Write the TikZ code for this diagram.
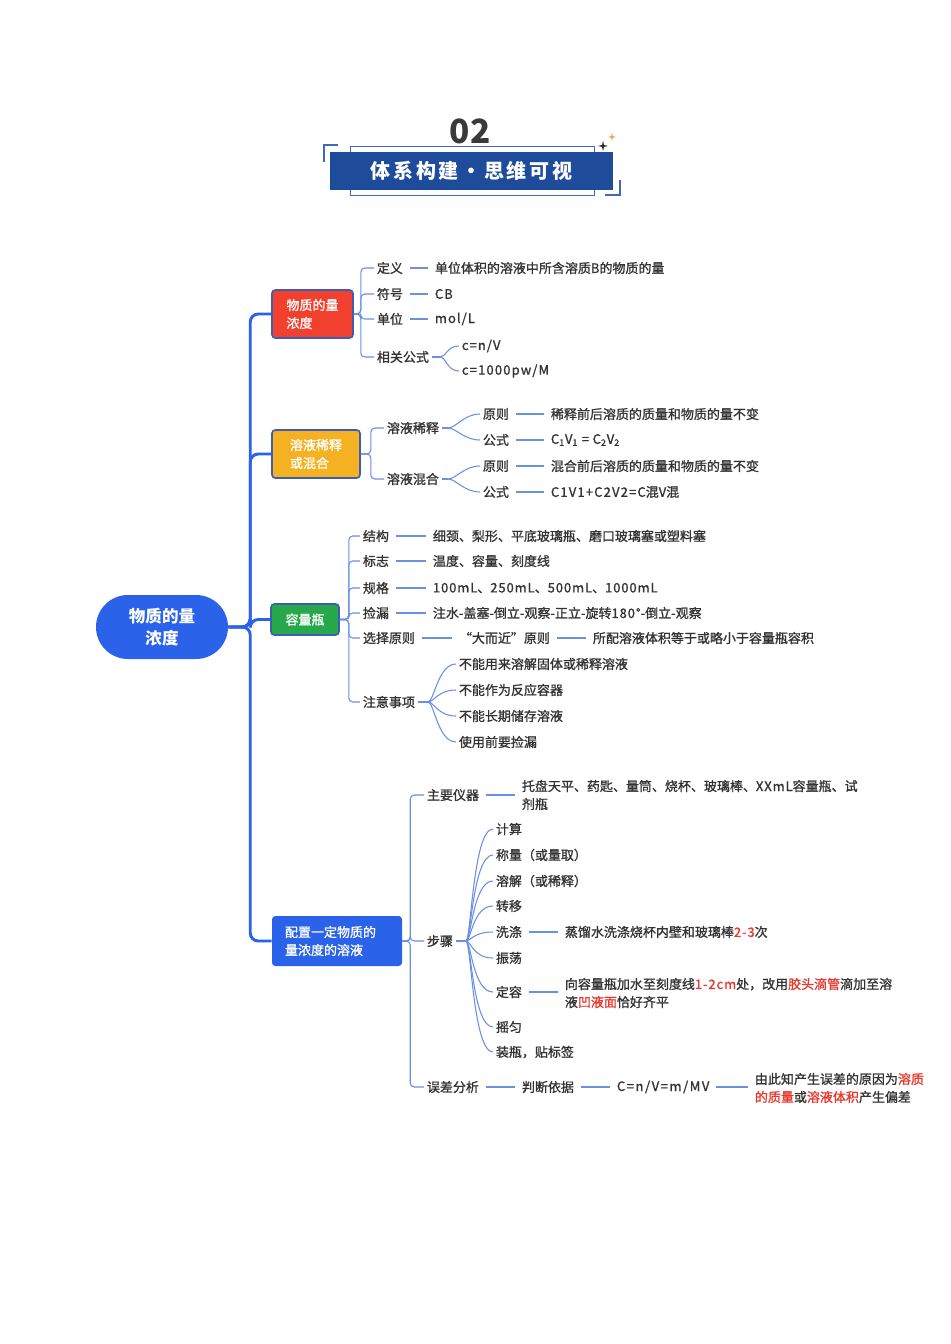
\documentclass[tikz,border=0pt]{standalone}
\usepackage{fontspec}
\setmainfont{Noto Sans CJK SC}
\newfontfamily\leaffam{Noto Sans CJK SC}[FakeBold=1.1]
\usetikzlibrary{calc}
\definecolor{txt}{HTML}{333333}
\definecolor{numc}{HTML}{3A3A3A}
\definecolor{tblue}{HTML}{1E4C9A}
\definecolor{frc}{HTML}{3B6BC0}
\definecolor{cblue}{HTML}{2A62EA}
\definecolor{lblue}{HTML}{6A90E4}
\definecolor{boxred}{HTML}{F2402F}
\definecolor{boxorg}{HTML}{F4B223}
\definecolor{boxgrn}{HTML}{27A84A}
\definecolor{bordb}{HTML}{3D5DB5}
\definecolor{hl}{HTML}{E8392F}
\definecolor{starorg}{HTML}{E8A040}
\newcommand\leaffont{\leaffam\fontsize{9.75pt}{13.5pt}\selectfont}
\newcommand\boxfont{\leaffam\fontsize{9.75pt}{13.5pt}\selectfont}
\newcommand\hlt[1]{\textcolor{hl}{#1}}
\newcommand\lsp[2]{{\addfontfeature{LetterSpace=#1}#2}}
\tikzset{
  trunk/.style={draw=cblue, line width=2.2pt, rounded corners=6pt},
  br/.style={draw=lblue, line width=0.8pt, rounded corners=3pt},
  fk/.style={draw=lblue, line width=0.8pt},
  dl/.style={draw=lblue, line width=0.8pt, shorten <=3pt, shorten >=3pt},
  lf/.style={anchor=west, inner xsep=2pt, inner ysep=1pt, text=txt, font=\leaffont, align=left},
  bx/.style={rounded corners=2.5pt, text=white, font=\boxfont, align=left, inner sep=0pt},
  frl/.style={draw=frc, line width=1.1pt},
}
\begin{document}
\begin{tikzpicture}[x=0.75pt,y=-0.75pt]
\useasboundingbox[fill=white] (0,0) rectangle (950,1344);

% ---------- title ----------
\node[font=\fontsize{25pt}{25pt}\selectfont\bfseries, text=numc, inner sep=0pt] (num) at (470,131) {02};
\node[draw=frc, line width=0.7pt, fill=white, minimum width=183pt, minimum height=36.75pt, inner sep=0pt] (frame) at (472,170.5) {};
\node[fill=tblue, minimum width=212.25pt, minimum height=28.5pt, inner sep=0pt, text=white,
      font=\fontsize{15pt}{15pt}\selectfont\bfseries] (ttl) at (471.5,171)
  {体\kern2pt 系\kern2pt 构\kern2pt 建\kern2pt ・\kern2pt 思\kern2pt 维\kern2pt 可\kern2pt 视};
\draw[frl] (338,145) -- (324,145) -- (324,162);
\draw[frl] (605,195) -- (620,195) -- (620,180);
\fill[txt] (603,141) -- (604,145) -- (608,146) -- (604,147) -- (603,151) -- (602,147) -- (598,146) -- (602,145) -- cycle;
\fill[starorg] (612,133) -- (612.8,136.2) -- (616,137) -- (612.8,137.8) -- (612,141) -- (611.2,137.8) -- (608,137) -- (611.2,136.2) -- cycle;

% ---------- central node & boxes ----------
\node[fill=cblue, rounded corners=24pt, minimum width=99pt, minimum height=48pt, inner sep=0pt,
      text=white, align=center, font=\fontsize{12.4pt}{16.5pt}\selectfont\bfseries] (c) at (162,627) {物质的量\\浓度};

\node[bx, fill=boxred, draw=bordb, line width=1.2pt, minimum width=60.75pt, minimum height=36pt] (b1) at (312.5,314) {物质的量\\浓度};
\node[bx, fill=boxorg, draw=bordb, line width=1.2pt, minimum width=66pt, minimum height=36pt] (b2) at (316,454) {溶液稀释\\或混合};
\node[bx, fill=boxgrn, draw=bordb, line width=1.2pt, minimum width=51pt, minimum height=23.25pt] (b3) at (305,619.5) {容量瓶};
\node[bx, fill=cblue, minimum width=97.5pt, minimum height=37.5pt, text width=78pt] (b4) at (337,941) {配置一定物质的\\量浓度的溶液};

\foreach \b in {b1,b2,b3,b4} \draw[trunk] (c.east) -- ++(22,0) |- (\b.west);

% ---------- branch 1 ----------
\node[lf] (k11) at (374,268) {定义};
\node[lf] (k12) at (374,294) {符号};
\node[lf] (k13) at (374,319) {单位};
\node[lf] (k14) at (374,357) {相关公式};
\foreach \k in {k11,k12,k13,k14} \draw[br] (b1.east) -- ++(7,0) |- (\k.west);
\node[lf] (v11) at (432,268) {单位体积的溶液中所含溶质B的物质的量};
\node[lf] (v12) at (432,294) {\lsp{8}{CB}};
\node[lf] (v13) at (432,319) {\lsp{8}{mol/L}};
\draw[dl] (k11) -- (v11);
\draw[dl] (k12) -- (v12);
\draw[dl] (k13) -- (v13);
\coordinate (f14) at (440,357);
\node[lf] (v141) at (459,346) {\lsp{8}{c=n/V}};
\node[lf] (v142) at (459,371) {\lsp{9}{c=1000pw/M}};
\draw[fk] (k14.east) -- (f14);
\foreach \v in {v141,v142} \draw[fk] (f14) .. controls +(6,0) and +(-12,0) .. (\v.west);

% ---------- branch 2 ----------
\node[lf] (s21) at (384,428) {溶液稀释};
\node[lf] (s22) at (384,479) {溶液混合};
\foreach \k in {s21,s22} \draw[br] (b2.east) -- ++(10,0) |- (\k.west);
\coordinate (f21) at (448,428);
\coordinate (f22) at (448,479);
\node[lf] (y211) at (480,414) {原则};
\node[lf] (y212) at (480,440) {公式};
\node[lf] (y221) at (480,466) {原则};
\node[lf] (y222) at (480,492) {公式};
\draw[fk] (s21.east) -- (f21);
\draw[fk] (s22.east) -- (f22);
\foreach \v in {y211,y212} \draw[fk] (f21) .. controls +(8,0) and +(-16,0) .. (\v.west);
\foreach \v in {y221,y222} \draw[fk] (f22) .. controls +(8,0) and +(-16,0) .. (\v.west);
\node[lf] (w211) at (548,414) {稀释前后溶质的质量和物质的量不变};
\node[lf] (w212) at (548,440) {\lsp{6}{C\textsubscript{1}V\textsubscript{1} = C\textsubscript{2}V\textsubscript{2}}};
\node[lf] (w221) at (548,466) {混合前后溶质的质量和物质的量不变};
\node[lf] (w222) at (548,492) {\lsp{9}{C1V1+C2V2=C}混\lsp{9}{V}混};
\draw[dl] (y211) -- (w211);
\draw[dl] (y212) -- (w212);
\draw[dl] (y221) -- (w221);
\draw[dl] (y222) -- (w222);

% ---------- branch 3 ----------
\node[lf] (k31) at (360,536) {结构};
\node[lf] (k32) at (360,561) {标志};
\node[lf] (k33) at (360,588) {规格};
\node[lf] (k34) at (360,613) {捡漏};
\node[lf] (k35) at (360,638) {选择原则};
\node[lf] (k36) at (360,702) {注意事项};
\foreach \k in {k31,k32,k33,k34,k35,k36} \draw[br] (b3.east) -- ++(9,0) |- (\k.west);
\node[lf] (v31) at (430,536) {细颈、梨形、平底玻璃瓶、磨口玻璃塞或塑料塞};
\node[lf] (v32) at (430,561) {温度、容量、刻度线};
\node[lf] (v33) at (430,588) {\lsp{7}{100mL}、\lsp{7}{250mL}、\lsp{7}{500mL}、\lsp{7}{1000mL}};
\node[lf] (v34) at (430,613) {注水-盖塞-倒立-观察-正立-旋转\lsp{7}{180°}-倒立-观察};
\node[lf] (v35) at (456,638) {“大而近”原则};
\node[lf] (v351) at (590,638) {所配溶液体积等于或略小于容量瓶容积};
\draw[dl] (k31) -- (v31);
\draw[dl] (k32) -- (v32);
\draw[dl] (k33) -- (v33);
\draw[dl] (k34) -- (v34);
\draw[dl] (k35) -- (v35);
\draw[dl] (v35) -- (v351);
\coordinate (f36) at (428,702);
\node[lf] (n1) at (456,664) {不能用来溶解固体或稀释溶液};
\node[lf] (n2) at (456,690) {不能作为反应容器};
\node[lf] (n3) at (456,716) {不能长期储存溶液};
\node[lf] (n4) at (456,742) {使用前要捡漏};
\draw[fk] (k36.east) -- (f36);
\foreach \v in {n1,n2,n3,n4} \draw[fk] (f36) .. controls +(6,0) and +(-18,0) .. (\v.west);

% ---------- branch 4 ----------
\node[lf] (k41) at (424,795) {主要仪器};
\node[lf] (k42) at (424,941) {步骤};
\node[lf] (k43) at (424,1087) {误差分析};
\foreach \k in {k41,k42,k43} \draw[br] (b4.east) -- ++(8,0) |- (\k.west);
\node[lf] (v41) at (519,795) {托盘天平、药匙、量筒、烧杯、玻璃棒、\lsp{7}{XXmL}容量瓶、试\\剂瓶};
\draw[dl] (k41.east) -- (v41.west);
\coordinate (f42) at (466,941);
\draw[fk] (k42.east) -- (f42);
\node[lf] (p1) at (493,829) {计算};
\node[lf] (p2) at (493,855) {称量（或量取）};
\node[lf] (p3) at (493,881) {溶解（或稀释）};
\node[lf] (p4) at (493,906) {转移};
\node[lf] (p5) at (493,932) {洗涤};
\node[lf] (p6) at (493,958) {振荡};
\node[lf] (p7) at (493,992) {定容};
\node[lf] (p8) at (493,1027) {摇匀};
\node[lf] (p9) at (493,1052) {装瓶，贴标签};
\foreach \v in {p1,p2,p3,p4,p5,p6,p7,p8,p9} \draw[fk] (f42) .. controls +(5,0) and +(-20,0) .. (\v.west);
\node[lf] (q5) at (562,932) {蒸馏水洗涤烧杯内壁和玻璃棒\hlt{\lsp{7}{2-3}}次};
\node[lf] (q7) at (562,993) {向容量瓶加水至刻度线\hlt{\lsp{7}{1-2cm}}处，改用\hlt{胶头滴管}滴加至溶\\液\hlt{凹液面}恰好齐平};
\draw[dl] (p5) -- (q5);
\draw[dl] (p7.east) -- (p7.east -| q7.west);
\node[lf] (e1) at (519,1087) {判断依据};
\node[lf] (e2) at (614,1087) {\lsp{12}{C=n/V=m/MV}};
\node[lf] (e3) at (752,1088) {由此知产生误差的原因为\hlt{溶质}\\\hlt{的质量}或\hlt{溶液体积}产生偏差};
\draw[dl] (k43) -- (e1);
\draw[dl] (e1) -- (e2);
\draw[dl] (e2.east) -- (e2.east -| e3.west);
\end{tikzpicture}
\end{document}
